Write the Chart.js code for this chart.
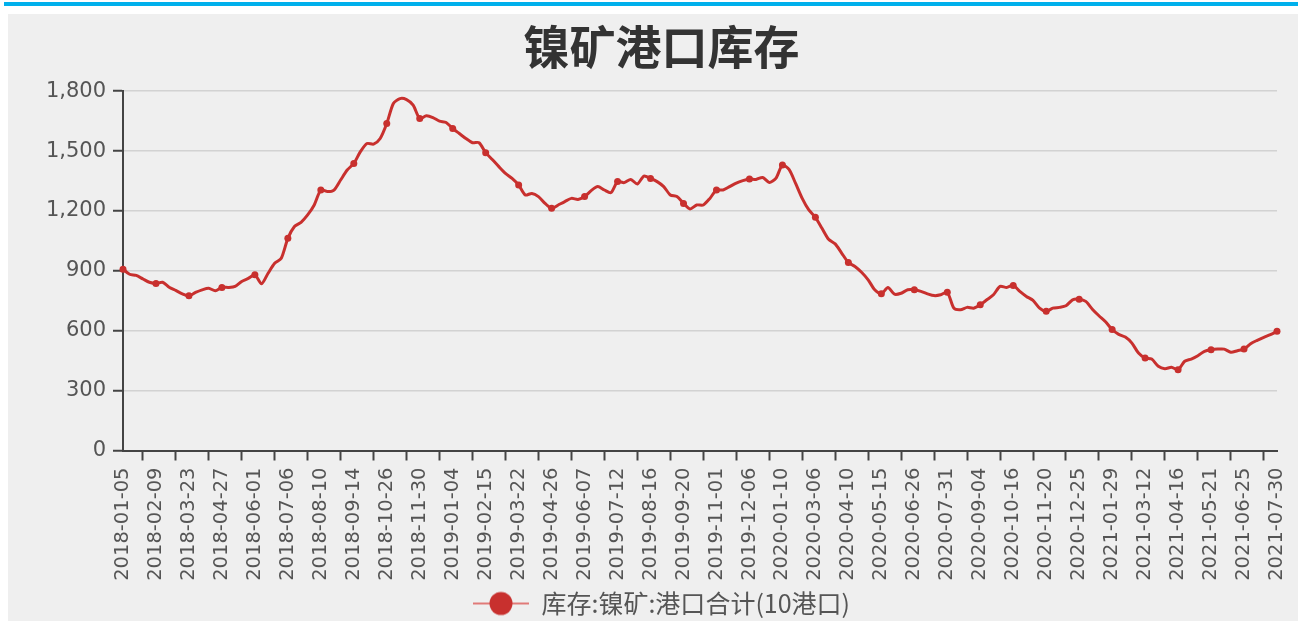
<!DOCTYPE html>
<html>
<head>
<meta charset="utf-8">
<title>镍矿港口库存</title>
<script src="https://cdn.jsdelivr.net/npm/chart.js@4.4.0/dist/chart.umd.min.js"></script>
<style>
  html, body { margin: 0; padding: 0; background: #fff; }
  body { width: 1298px; height: 621px; overflow: hidden; position: relative; }
  .topbar { position: absolute; left: 4px; top: 2px; width: 1294px; height: 4px; background: #00b0ec; }
  .panel { position: absolute; left: 8px; top: 14px; width: 1304px; height: 607px; background: #efefef; }
</style>
</head>
<body>
<div class="topbar"></div>
<div class="panel">
  <canvas id="myChart" width="1304" height="607"></canvas>
</div>
<script>
const titulo = '镍矿港口库存';
const serieNombre = '库存:镍矿:港口合计(10港口)';

// fechas semanales (faltan algunas semanas de feriados)
const fechas = [
  '2018-01-05', '2018-01-12', '2018-01-19', '2018-01-26', '2018-02-02',
  '2018-02-09', '2018-02-23', '2018-03-02', '2018-03-09', '2018-03-16',
  '2018-03-23', '2018-03-30', '2018-04-06', '2018-04-13', '2018-04-20',
  '2018-04-27', '2018-05-04', '2018-05-11', '2018-05-18', '2018-05-25',
  '2018-06-01', '2018-06-08', '2018-06-15', '2018-06-22', '2018-06-29',
  '2018-07-06', '2018-07-13', '2018-07-20', '2018-07-27', '2018-08-03',
  '2018-08-10', '2018-08-17', '2018-08-24', '2018-08-31', '2018-09-07',
  '2018-09-14', '2018-09-21', '2018-09-28', '2018-10-12', '2018-10-19',
  '2018-10-26', '2018-11-02', '2018-11-09', '2018-11-16', '2018-11-23',
  '2018-11-30', '2018-12-07', '2018-12-14', '2018-12-21', '2018-12-28',
  '2019-01-04', '2019-01-11', '2019-01-18', '2019-01-25', '2019-02-01',
  '2019-02-15', '2019-02-22', '2019-03-01', '2019-03-08', '2019-03-15',
  '2019-03-22', '2019-03-29', '2019-04-05', '2019-04-12', '2019-04-19',
  '2019-04-26', '2019-05-10', '2019-05-17', '2019-05-24', '2019-05-31',
  '2019-06-07', '2019-06-14', '2019-06-21', '2019-06-28', '2019-07-05',
  '2019-07-12', '2019-07-19', '2019-07-26', '2019-08-02', '2019-08-09',
  '2019-08-16', '2019-08-23', '2019-08-30', '2019-09-06', '2019-09-13',
  '2019-09-20', '2019-09-27', '2019-10-11', '2019-10-18', '2019-10-25',
  '2019-11-01', '2019-11-08', '2019-11-15', '2019-11-22', '2019-11-29',
  '2019-12-06', '2019-12-13', '2019-12-20', '2019-12-27', '2020-01-03',
  '2020-01-10', '2020-01-17', '2020-02-14', '2020-02-21', '2020-02-28',
  '2020-03-06', '2020-03-13', '2020-03-20', '2020-03-27', '2020-04-03',
  '2020-04-10', '2020-04-17', '2020-04-24', '2020-04-30', '2020-05-08',
  '2020-05-15', '2020-05-22', '2020-05-29', '2020-06-05', '2020-06-12',
  '2020-06-26', '2020-07-03', '2020-07-10', '2020-07-17', '2020-07-24',
  '2020-07-31', '2020-08-07', '2020-08-14', '2020-08-21', '2020-08-28',
  '2020-09-04', '2020-09-11', '2020-09-18', '2020-09-25', '2020-10-09',
  '2020-10-16', '2020-10-23', '2020-10-30', '2020-11-06', '2020-11-13',
  '2020-11-20', '2020-11-27', '2020-12-04', '2020-12-11', '2020-12-18',
  '2020-12-25', '2021-01-01', '2021-01-08', '2021-01-15', '2021-01-22',
  '2021-01-29', '2021-02-05', '2021-02-19', '2021-02-26', '2021-03-05',
  '2021-03-12', '2021-03-19', '2021-03-26', '2021-04-02', '2021-04-09',
  '2021-04-16', '2021-04-23', '2021-04-30', '2021-05-07', '2021-05-14',
  '2021-05-21', '2021-05-28', '2021-06-04', '2021-06-11', '2021-06-18',
  '2021-06-25', '2021-07-02', '2021-07-09', '2021-07-16', '2021-07-23',
  '2021-07-30'
];

// inventario (10 puertos)
const inventario = [
  908, 883, 877, 860, 843, 837, 843, 818, 802, 785,
  775, 792, 805, 813, 800, 817, 817, 822, 847, 862,
  880, 835, 888, 938, 963, 1063, 1122, 1143, 1180, 1230,
  1305, 1297, 1305, 1355, 1405, 1438, 1497, 1538, 1535, 1563,
  1638, 1738, 1763, 1758, 1730, 1663, 1677, 1668, 1650, 1643,
  1613, 1588, 1563, 1542, 1542, 1492, 1458, 1422, 1388, 1363,
  1330, 1280, 1288, 1272, 1238, 1213, 1230, 1247, 1263, 1258,
  1272, 1302, 1322, 1305, 1292, 1347, 1342, 1358, 1335, 1375,
  1363, 1347, 1322, 1280, 1272, 1238, 1210, 1230, 1230, 1263,
  1305, 1305, 1322, 1340, 1352, 1360, 1358, 1368, 1343, 1363,
  1430, 1408, 1338, 1263, 1205, 1168, 1113, 1058, 1035, 988,
  942, 922, 893, 855, 805, 785, 817, 783, 788, 805,
  805, 797, 785, 776, 780, 793, 713, 705, 717, 713,
  730, 755, 780, 822, 817, 827, 797, 772, 752, 713,
  697, 713, 717, 725, 755, 758, 747, 708, 675, 645,
  606, 582, 568, 538, 488, 463, 458, 422, 410, 417,
  405, 447, 458, 475, 497, 505, 508, 508, 492, 500,
  508, 535, 552, 567, 580, 597
];

const yTicks = [0, 300, 600, 900, 1200, 1500, 1800];
const cadaN = 5; // una etiqueta cada 5 semanas

const rojo = '#c8302e';
const fuenteNum = '"DejaVu Sans", "Noto Sans CJK SC", sans-serif';
const fuenteCjk = '"Noto Sans CJK SC", "DejaVu Sans", sans-serif';

// icono de la leyenda: linea con circulo
const icono = document.createElement('canvas');
icono.width = 56;
icono.height = 26;
const ic = icono.getContext('2d');
ic.strokeStyle = '#e07a78';
ic.lineWidth = 2;
ic.beginPath();
ic.moveTo(0, 13);
ic.lineTo(56, 13);
ic.stroke();
ic.fillStyle = rojo;
ic.beginPath();
ic.arc(28, 13, 11.5, 0, Math.PI * 2);
ic.fill();

const ctx = document.getElementById('myChart');

new Chart(ctx, {
  type: 'line',
  data: {
    labels: fechas,
    datasets: [{
      label: serieNombre,
      data: inventario,
      borderColor: rojo,
      backgroundColor: rojo,
      borderWidth: 3,
      tension: 0.25,
      pointStyle: 'circle',
      pointRadius: (c) => (c.index % cadaN === 0 ? 3.5 : 0),
      pointBackgroundColor: rojo,
      pointBorderWidth: 0
    }]
  },
  options: {
    responsive: false,
    animation: false,
    devicePixelRatio: 1,
    layout: {
      padding: { left: 38, right: 35, top: 0, bottom: -5 }
    },
    plugins: {
      title: {
        display: true,
        text: titulo,
        color: '#333',
        font: { family: fuenteCjk, size: 46, weight: 'bold' },
        padding: { top: 5, bottom: 17 }
      },
      legend: {
        position: 'bottom',
        labels: {
          usePointStyle: true,
          pointStyle: icono,
          pointStyleWidth: 56,
          color: '#555',
          font: { family: fuenteCjk, size: 25 },
          padding: 0.5
        }
      },
      tooltip: { enabled: false }
    },
    scales: {
      x: {
        offset: false,
        border: { display: true, color: '#444', width: 2 },
        grid: {
          drawOnChartArea: false,
          drawTicks: true,
          tickLength: 10,
          tickColor: (c) => (c.index % cadaN === 3 ? '#444' : 'rgba(0,0,0,0)'),
          tickWidth: 2
        },
        ticks: {
          autoSkip: false,
          maxRotation: 90,
          minRotation: 90,
          padding: 7,
          color: '#555',
          font: { family: fuenteNum, size: 19.5 },
          callback: function (value, index) {
            return index % cadaN === 0 ? fechas[index] : '';
          }
        },
        afterFit: (axis) => { axis.height = 140; }
      },
      y: {
        min: 0,
        max: 1800,
        border: { display: true, color: '#444', width: 2 },
        afterBuildTicks: (axis) => {
          axis.ticks = yTicks.map((v) => ({ value: v }));
        },
        afterFit: (axis) => { axis.width = 77; },
        grid: {
          color: '#d2d2d2',
          lineWidth: 1.5,
          tickLength: 10,
          tickColor: '#444',
          tickWidth: 2
        },
        ticks: {
          padding: 7,
          color: '#555',
          font: { family: fuenteNum, size: 21 },
          callback: (v) => v.toLocaleString('en-US')
        }
      }
    }
  }
});
</script>
</body>
</html>
